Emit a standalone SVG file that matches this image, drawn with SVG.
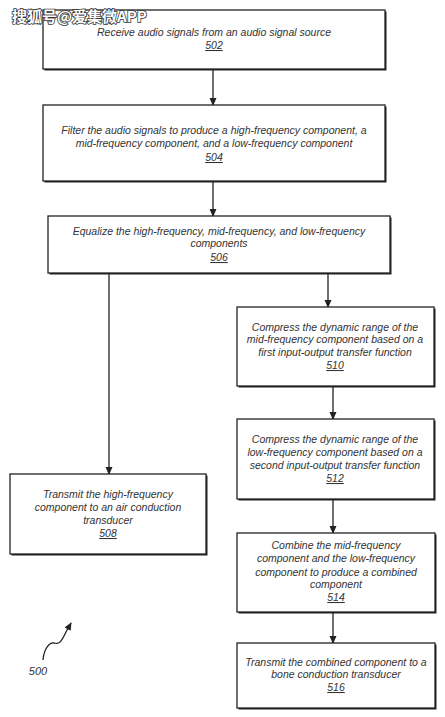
<svg xmlns="http://www.w3.org/2000/svg" width="445" height="717" viewBox="0 0 445 717">
<style>
.sh{fill:#222;}
.bx{fill:#fff;stroke:#222;stroke-width:1.3;}
.t{font-family:"Liberation Sans",Arial,sans-serif;font-style:italic;font-size:10.5px;fill:#333;text-anchor:middle;}
.n{text-decoration:underline;}
.c{fill:none;stroke:#222;stroke-width:1.3;}
.wm{font-family:"Noto Sans CJK SC","Liberation Sans",sans-serif;font-size:15px;font-weight:bold;fill:#fff;stroke:#333;stroke-width:1.6;paint-order:stroke;}
</style>
<defs>
<marker id="ah" markerWidth="8" markerHeight="9" refX="7" refY="4" orient="auto" markerUnits="userSpaceOnUse">
<path d="M0,0.5 L8,4 L0,7.5 Z" fill="#222"/>
</marker>
</defs>
<g id="connectors">
<line class="c" x1="213" y1="69" x2="213" y2="105" marker-end="url(#ah)"/>
<line class="c" x1="213" y1="181" x2="213" y2="216" marker-end="url(#ah)"/>
<line class="c" x1="109" y1="273" x2="109" y2="474" marker-end="url(#ah)"/>
<line class="c" x1="328" y1="273" x2="328" y2="307" marker-end="url(#ah)"/>
<line class="c" x1="333" y1="386" x2="333" y2="419" marker-end="url(#ah)"/>
<line class="c" x1="333" y1="499" x2="333" y2="533" marker-end="url(#ah)"/>
<line class="c" x1="333" y1="612" x2="333" y2="643" marker-end="url(#ah)"/>
<path class="c" d="M43,660 C44,648 50,642 54,643 C60,645 62,640 66,632 L71,623" marker-end="url(#ah)"/>
</g>
<g id="n502">
<rect class="sh" x="44.5" y="11.5" width="342" height="59"/>
<rect class="bx" x="43" y="10" width="342" height="59"/>
<text class="t" x="214" y="36">Receive audio signals from an audio signal source</text>
<text class="t n" x="214" y="49">502</text>
</g>
<g id="n504">
<rect class="sh" x="44.5" y="106.5" width="342" height="76"/>
<rect class="bx" x="43" y="105" width="342" height="76"/>
<text class="t" x="214" y="134">Filter the audio signals to produce a high-frequency component, a</text>
<text class="t" x="214" y="147">mid-frequency component, and a low-frequency component</text>
<text class="t n" x="214" y="161">504</text>
</g>
<g id="n506">
<rect class="sh" x="49.5" y="217.5" width="342" height="57"/>
<rect class="bx" x="48" y="216" width="342" height="57"/>
<text class="t" x="219" y="235">Equalize the high-frequency, mid-frequency, and low-frequency</text>
<text class="t" x="219" y="247">components</text>
<text class="t n" x="219" y="261">506</text>
</g>
<g id="n510">
<rect class="sh" x="238.5" y="308.5" width="197" height="79"/>
<rect class="bx" x="237" y="307" width="197" height="79"/>
<text class="t" x="335" y="331">Compress the dynamic range of the</text>
<text class="t" x="335" y="343">mid-frequency component based on a</text>
<text class="t" x="335" y="356">first input-output transfer function</text>
<text class="t n" x="335" y="369">510</text>
</g>
<g id="n508">
<rect class="sh" x="11.5" y="475.5" width="196" height="80"/>
<rect class="bx" x="10" y="474" width="196" height="80"/>
<text class="t" x="108" y="498">Transmit the high-frequency</text>
<text class="t" x="108" y="511">component to an air conduction</text>
<text class="t" x="108" y="524">transducer</text>
<text class="t n" x="108" y="537">508</text>
</g>
<g id="n512">
<rect class="sh" x="238.5" y="420.5" width="197" height="80"/>
<rect class="bx" x="237" y="419" width="197" height="80"/>
<text class="t" x="335" y="443">Compress the dynamic range of the</text>
<text class="t" x="335" y="456">low-frequency component based on a</text>
<text class="t" x="335" y="469">second input-output transfer function</text>
<text class="t n" x="335" y="482">512</text>
</g>
<g id="n514">
<rect class="sh" x="238.5" y="534.5" width="198" height="79"/>
<rect class="bx" x="237" y="533" width="198" height="79"/>
<text class="t" x="336" y="549">Combine the mid-frequency</text>
<text class="t" x="336" y="562">component and the low-frequency</text>
<text class="t" x="336" y="576">component to produce a combined</text>
<text class="t" x="336" y="588">component</text>
<text class="t n" x="336" y="601">514</text>
</g>
<g id="n516">
<rect class="sh" x="238.5" y="644.5" width="198" height="65"/>
<rect class="bx" x="237" y="643" width="198" height="65"/>
<text class="t" x="336" y="666">Transmit the combined component to a</text>
<text class="t" x="336" y="678">bone conduction transducer</text>
<text class="t n" x="336" y="691">516</text>
</g>
<text class="t" x="38" y="675" style="font-size:11px">500</text>
<text class="wm" x="12" y="22">搜狐号@爱集微APP</text>
</svg>
